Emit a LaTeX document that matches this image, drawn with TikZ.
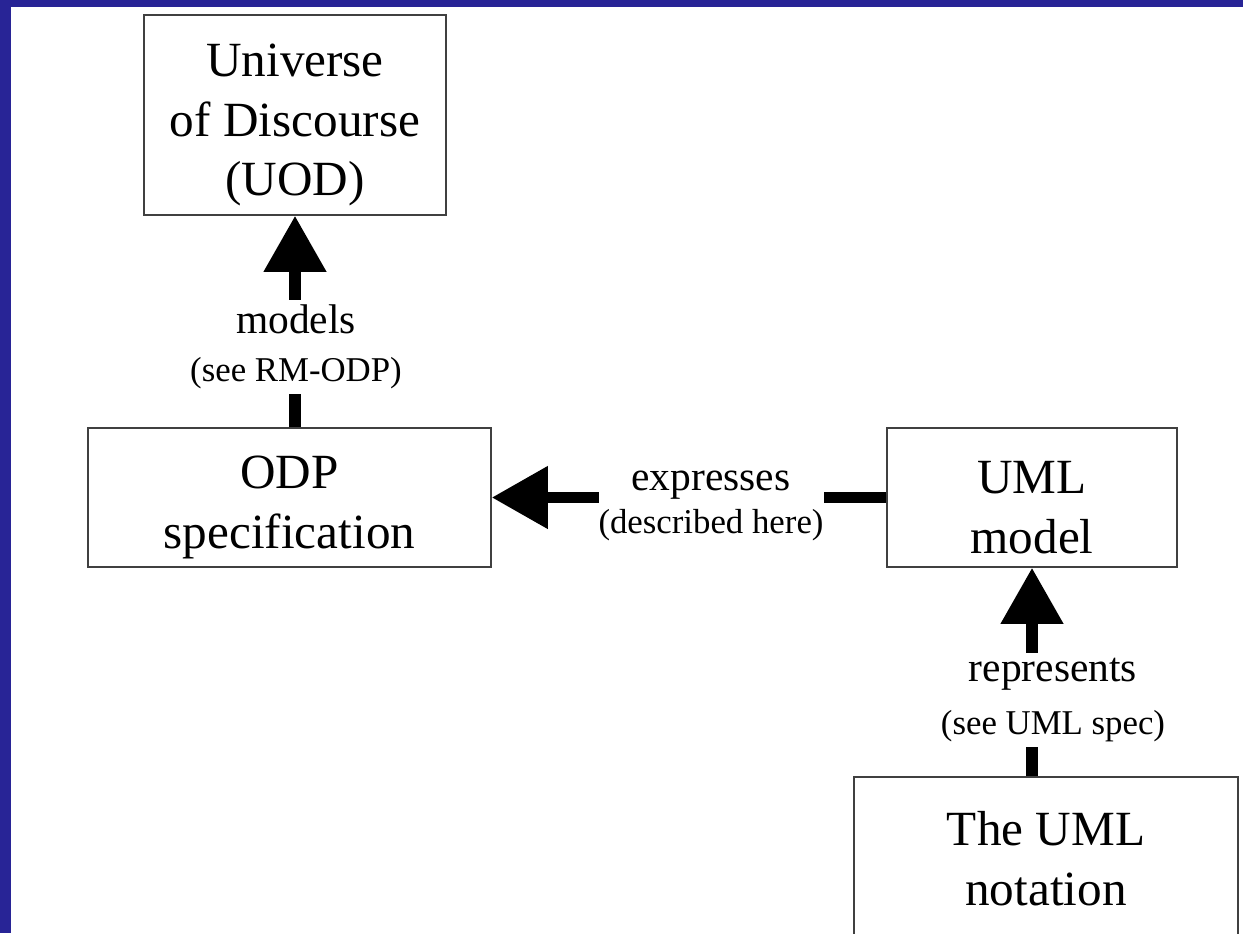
\documentclass[tikz,border=0pt]{standalone}
\usepackage{fontspec}
\setmainfont{Liberation Serif}
\usetikzlibrary{arrows.meta}
\definecolor{slideblue}{RGB}{40,36,150}
\newcommand{\boxstrut}{\rule{0pt}{30pt}}
\newcommand{\smallnote}[1]{{\fontsize{19.8pt}{24pt}\selectfont #1}}
\tikzset{
  box/.style={rectangle, draw=black!75, line width=0.8pt, align=center, inner sep=0pt,
    font=\fontsize{28pt}{34pt}\selectfont},
  link/.style={line width=6.8pt, -{Triangle[length=32pt,width=34pt]}},
  lbl/.style={fill=white, align=center, inner xsep=0pt, inner ysep=3pt,
    font=\fontsize{23.6pt}{27pt}\selectfont}
}
\begin{document}
\begin{tikzpicture}[x=0.02cm, y=-0.02cm]
  % Background
  \useasboundingbox (0,0) rectangle (1243,933);
  \fill[slideblue] (0,0) rectangle (1243,933);
  \fill[white] (11,7) rectangle (1243,933);
  \clip (0,0) rectangle (1243,933);
  % Nodes
  \node (uod) [box, minimum width=6.04cm, minimum height=4cm] at (295,115) {\boxstrut Universe\\of Discourse\\(UOD)};
  \node (odp) [box, minimum width=8.06cm, minimum height=2.78cm] at (289.5,497.5) {\boxstrut ODP\\specification};
  \node (umlmodel) [box, minimum width=5.8cm, minimum height=2.78cm] at (1032,497.5) {\boxstrut UML\\model};
  \node (notation) [box, minimum width=7.68cm, minimum height=4cm] at (1046,877) {\boxstrut The UML\\notation\rule[-32pt]{0pt}{0pt}};
  % Arrows
  \draw[link] (uod.south |- odp.north) -- (uod.south);
  \draw[link] (umlmodel.west) -- (odp.east);
  \draw[link] (umlmodel.south |- notation.north) -- (umlmodel.south);
  % Labels
  \node (models) [lbl] at (296,347) {models\\\smallnote{(see RM-ODP)}};
  \node (expresses) [lbl] at (711,506) {expresses\\[-3pt]\smallnote{(described here)}};
  \node (represents) [lbl] at (1053,700) {represents\\[3pt]\smallnote{(see UML spec)}};
\end{tikzpicture}
\end{document}
